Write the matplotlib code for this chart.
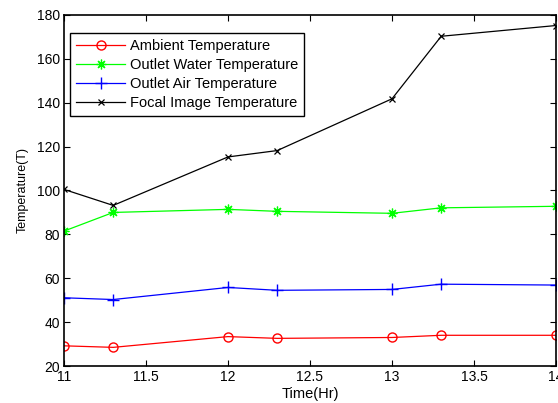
import numpy as np
import matplotlib
matplotlib.use("Agg")
import matplotlib.pyplot as plt

plt.rcParams['font.family'] = ['Liberation Sans', 'DejaVu Sans']

# time of day (hours)
time_hr = [11, 11.3, 12, 12.3, 13, 13.3, 14]

# temperatures
ambient = [29.2, 28.5, 33.4, 32.6, 33.0, 34.0, 34.0]
outlet_water = [81.5, 90.0, 91.4, 90.5, 89.6, 92.1, 92.8]
outlet_air = [51.1, 50.3, 55.8, 54.5, 54.9, 57.3, 56.9]
focal_image = [100.5, 93.2, 115.3, 118.2, 141.8, 170.3, 175.2]

labels = ["Ambient Temperature", "Outlet Water Temperature",
          "Outlet Air Temperature", "Focal Image Temperature"]

fig = plt.figure(figsize=(5.58, 4.03), dpi=100)
ax = fig.add_axes([0.1147, 0.0918, 0.8817, 0.871])

ax.plot(time_hr, ambient, color='r', marker='o', mfc='none', ms=6.5, lw=0.9, label=labels[0])
ax.plot(time_hr, outlet_water, color=(0, 1, 0), marker=(8, 2, 0), ms=7, mew=0.9, lw=0.9, label=labels[1])
ax.plot(time_hr, outlet_air, color='b', marker='+', ms=9, mew=1.0, lw=0.9, label=labels[2])
ax.plot(time_hr, focal_image, color='k', marker='x', ms=5, mew=0.9, lw=0.9, label=labels[3])

ax.set_xlim(11, 14)
ax.set_ylim(20, 180)
ax.set_xticks(np.arange(11, 14.01, 0.5))
ax.set_xticklabels(["11", "11.5", "12", "12.5", "13", "13.5", "14"])
ax.set_yticks(np.arange(20, 181, 20))
ax.tick_params(direction='in', top=True, right=True, labelsize=10, length=4, width=0.8, pad=3)
for s in ax.spines.values():
    s.set_linewidth(1.2)

ax.set_xlabel("Time(Hr)", fontsize=10.5, labelpad=2)
ax.set_ylabel("Temperature(T)", fontsize=9, labelpad=6)

leg = ax.legend(loc='upper left', bbox_to_anchor=(0.012, 0.949), fontsize=10.5,
                fancybox=False, framealpha=1, edgecolor='k', handlelength=3.4,
                borderpad=0.4, labelspacing=0.35, handletextpad=0.3, borderaxespad=0)
leg.get_frame().set_linewidth(1.0)

fig.savefig("out.png", dpi=100)
